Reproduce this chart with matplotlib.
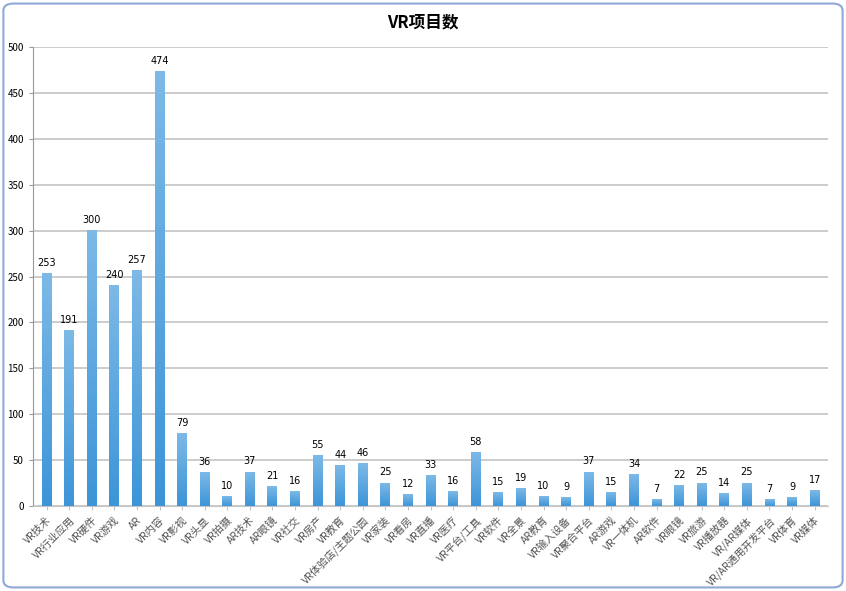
import numpy as np
import matplotlib
matplotlib.use("Agg")
from matplotlib import pyplot as plt
from matplotlib.patches import FancyBboxPatch

plt.rcParams['font.family'] = ['Noto Sans CJK SC', 'DejaVu Sans']

categories = ['VR技术', 'VR行业应用', 'VR硬件', 'VR游戏', 'AR', 'VR内容', 'VR影视', 'VR头显',
              'VR拍摄', 'AR技术', 'AR眼镜', 'VR社交', 'VR房产', 'VR教育', 'VR体验店/主题公园',
              'VR家装', 'VR看房', 'VR直播', 'VR医疗', 'VR平台/工具', 'VR软件', 'VR全景', 'AR教育',
              'VR输入设备', 'VR聚合平台', 'AR游戏', 'VR一体机', 'AR软件', 'VR眼镜', 'VR旅游',
              'VR播放器', 'VR/AR媒体', 'VR/AR通用开发平台', 'VR体育', 'VR媒体']
counts = [253, 191, 300, 240, 257, 474, 79, 36, 10, 37, 21, 16, 55, 44, 46, 25, 12, 33, 16,
          58, 15, 19, 10, 9, 37, 15, 34, 7, 22, 25, 14, 25, 7, 9, 17]
yticks = [0, 50, 100, 150, 200, 250, 300, 350, 400, 450, 500]

fig = plt.figure(figsize=(8.46, 5.91), dpi=100)
ax = fig.add_axes([0.039, 0.144, 0.940, 0.776])

# rounded frame around the chart
frame = FancyBboxPatch((0.004, 0.006), 0.992, 0.988, boxstyle="round,pad=0,rounding_size=0.012",
                       transform=fig.transFigure, facecolor='none', edgecolor='#8fa8d8', lw=1.5)
fig.patches.append(frame)

x = np.arange(len(categories))
w = 0.44
bars = ax.bar(x, counts, width=w, color='#4aa0e2', zorder=2)

# vertical gradient inside each bar, lighter at the top
grad = np.linspace(0, 1, 64).reshape(-1, 1)
cmap = matplotlib.colors.LinearSegmentedColormap.from_list('b', ['#7cb9e7', '#3d95d8'])
for b in bars:
    bx, by = b.get_x(), b.get_y()
    bw, bh = b.get_width(), b.get_height()
    ax.imshow(grad, extent=[bx, bx + bw, by, by + bh], aspect='auto', cmap=cmap,
              origin='upper', zorder=3)
    b.set_alpha(0)

for xi, v in zip(x, counts):
    ax.text(xi, v + 6, str(v), ha='center', va='bottom', fontsize=7, family='DejaVu Sans', zorder=4)

ax.set_xlim(-0.6, len(categories) - 0.4)
ax.set_ylim(0, 500)
ax.set_yticks(yticks)
ax.tick_params(axis='y', labelsize=7, length=3, color='#999999')
ax.yaxis.grid(True, color='#c4c4c4', lw=1.2, zorder=0)
ax.set_axisbelow(True)
for s in ['top', 'right']:
    ax.spines[s].set_visible(False)
ax.spines['left'].set_color('#999999')
ax.spines['bottom'].set_color('#c4c4c4')

ax.set_xticks(x)
ax.set_xticklabels(categories, rotation=45, ha='right', rotation_mode='anchor',
                   fontsize=7.5, color='#555555')
ax.tick_params(axis='x', length=3, color='#c4c4c4')

fig.text(0.5, 0.962, 'VR项目数', ha='center', va='center', fontsize=12, fontweight='bold')

fig.savefig('out.png', dpi=100)
